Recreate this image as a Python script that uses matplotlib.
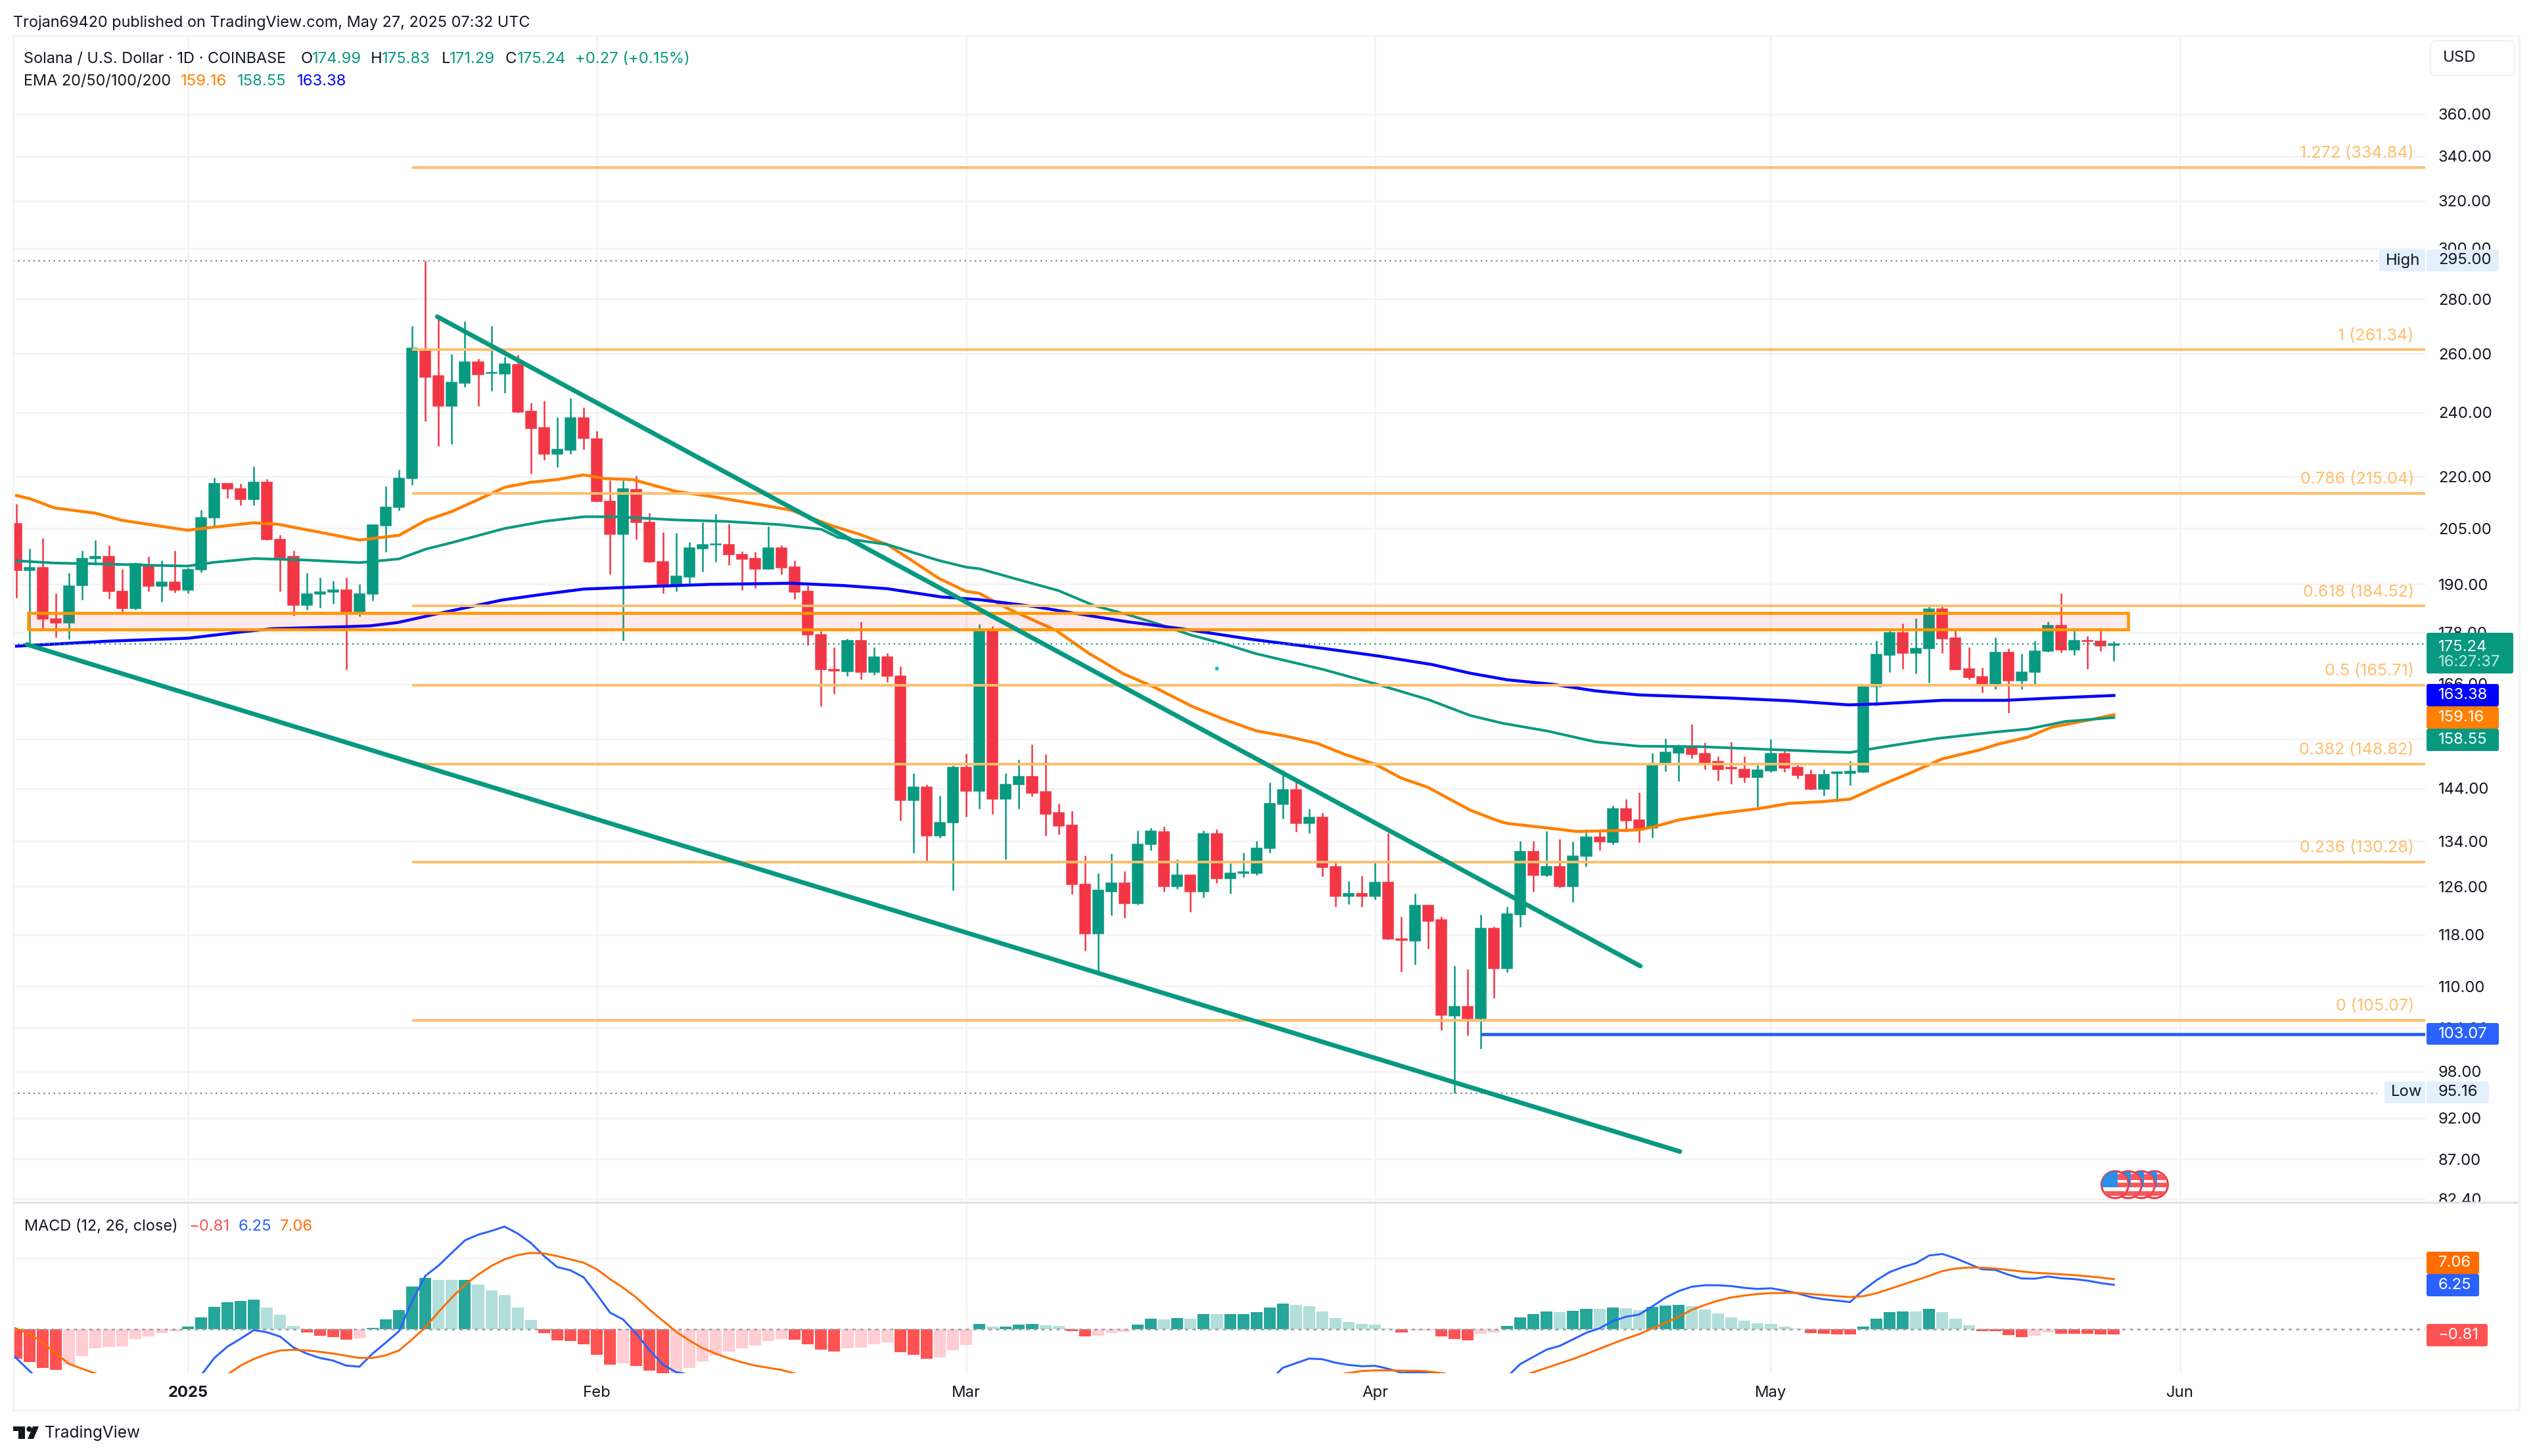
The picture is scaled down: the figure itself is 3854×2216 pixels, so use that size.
import numpy as np
import matplotlib
matplotlib.use("Agg")
import matplotlib.pyplot as plt
from matplotlib.patches import Rectangle, FancyBboxPatch, Circle, Polygon
from matplotlib.ticker import NullLocator, NullFormatter

plt.rcParams['font.family'] = ['Inter', 'DejaVu Sans']

W, H = 3854, 2216
GREEN, RED = '#089981', '#F23645'
FIB = '#FFBE6B'
TXT = '#131722'
GRID = '#F3F3F3'
FS = 17.2
FS_HEAD = 16.9
FS_FIB = 18.0

# days counted from 1 Jan 2025
days = np.arange(-13, 147)

opens = [
    206.4,193.6,194.3,181.3,180.3,189.8,196.8,197.4,188.2,183.9,
    195.1,189.5,190.6,188.6,193.8,208.0,217.9,216.4,213.2,218.3,
    202.0,197.4,184.7,187.5,188.1,188.5,182.8,187.5,205.8,211.0,
    219.4,261.7,252.2,242.1,249.7,257.1,253.2,252.9,256.1,240.5,
    235.0,226.9,228.0,238.2,231.6,212.8,203.4,216.2,206.7,196.0,
    189.5,191.9,199.4,200.6,200.6,197.9,196.8,194.0,199.6,194.6,
    188.2,177.5,169.2,168.8,176.1,168.6,172.1,167.8,141.7,144.2,
    135.0,137.4,148.1,143.5,178.5,141.9,144.8,146.3,143.3,139.3,
    136.9,126.4,118.2,125.2,126.6,123.2,133.4,135.8,126.0,128.0,
    125.2,135.4,127.4,128.3,128.3,132.7,140.9,143.7,137.3,138.4,
    129.5,124.4,124.8,124.4,126.7,117.4,117.0,122.8,120.4,105.7,
    107.0,105.3,119.0,112.7,121.3,132.2,128.0,129.5,126.0,131.3,
    134.8,133.8,140.0,138.0,136.5,148.8,151.1,152.5,151.0,149.3,
    148.1,147.8,146.2,147.5,150.9,148.1,146.7,143.9,147.0,147.0,
    147.2,165.4,172.6,178.0,173.0,174.1,183.7,176.6,169.4,167.6,
    165.9,173.2,166.7,168.6,173.6,179.7,173.8,176.1,175.8,174.99]
highs = [
    212.0,199.5,202.3,187.7,192.9,198.9,201.8,200.3,194.0,195.8,
    197.4,196.2,198.9,194.3,210.3,219.7,217.9,217.9,223.1,219.3,
    203.3,198.9,192.9,191.8,190.9,191.8,190.1,205.9,217.1,222.0,
    270.1,295.0,272.8,259.8,271.7,258.3,270.1,258.8,259.6,243.3,
    243.8,238.5,244.7,241.7,234.1,218.8,218.8,220.2,209.4,204.0,
    203.7,201.3,206.8,209.2,206.3,198.7,198.5,205.6,200.3,196.2,
    189.8,178.2,174.4,176.5,180.6,174.5,173.0,170.0,147.0,144.8,
    142.6,148.5,151.0,180.0,179.5,147.0,149.7,152.8,150.8,141.1,
    139.7,131.5,128.3,131.8,128.7,136.0,136.5,136.7,130.7,128.1,
    136.0,136.2,130.1,131.9,134.0,145.2,147.6,145.4,140.0,139.3,
    130.5,127.0,127.9,130.4,135.5,121.0,124.8,122.8,121.0,113.1,
    112.6,121.3,119.4,122.6,134.1,134.0,135.9,134.4,133.9,136.2,
    135.8,140.7,142.0,143.2,151.1,154.1,152.8,157.2,153.3,150.4,
    153.4,150.4,148.9,153.9,151.9,149.0,147.8,147.8,147.2,149.5,
    165.5,176.1,178.9,180.2,181.5,184.6,184.6,178.5,174.4,169.7,
    176.8,174.1,172.9,176.1,180.7,187.7,178.9,177.1,178.5,175.83]
lows = [
    186.6,175.1,179.0,176.8,176.4,186.0,195.0,186.3,182.8,183.6,
    188.3,185.5,187.9,187.7,193.1,205.6,213.7,211.5,211.5,201.8,
    188.2,182.1,183.6,184.1,185.0,169.3,181.9,185.9,198.5,210.1,
    217.5,237.1,229.3,230.0,248.4,242.2,247.2,246.4,240.0,220.9,
    225.0,222.8,226.9,228.3,212.7,192.6,176.0,202.0,195.8,187.7,
    188.2,190.0,193.3,196.0,195.0,188.6,189.0,194.0,192.6,186.2,
    174.9,161.0,163.8,167.7,167.0,168.1,166.4,137.8,131.9,130.5,
    134.6,125.4,138.5,140.0,139.1,130.7,140.0,142.5,135.0,135.2,
    124.7,115.5,112.2,121.2,120.8,122.9,132.4,125.1,125.6,121.7,
    124.2,126.6,124.8,127.6,128.0,131.9,138.2,135.8,135.5,127.8,
    122.6,123.0,122.6,123.8,117.2,112.2,113.3,115.8,103.7,95.16,
    102.9,101.1,108.3,112.1,119.3,125.2,127.8,125.8,123.4,129.5,
    132.4,133.5,135.8,133.8,134.7,147.3,145.4,150.0,147.8,145.5,
    144.9,145.1,140.4,147.2,147.2,145.9,143.7,142.6,141.4,144.6,
    147.1,161.1,168.7,169.4,168.4,166.3,173.0,169.3,167.0,164.1,
    164.8,159.6,164.7,165.7,173.4,173.2,172.6,169.4,173.5,171.29]
closes = [
    193.6,194.3,181.3,180.3,189.6,196.9,197.4,188.2,183.9,195.4,
    189.5,190.6,188.6,193.8,208.1,217.9,216.4,213.2,218.3,202.0,
    197.0,184.7,187.5,188.1,188.5,182.8,187.5,205.9,211.1,219.4,
    262.0,251.9,242.1,250.0,257.1,252.8,253.5,256.3,240.2,234.9,
    226.9,228.2,238.2,231.8,212.8,203.4,216.3,206.7,196.0,189.5,
    192.1,199.6,200.6,200.8,197.8,196.7,194.0,199.6,194.3,188.1,
    177.5,169.2,168.9,176.0,168.6,172.1,167.7,141.7,144.2,135.0,
    137.5,148.1,143.5,178.3,141.9,144.8,146.3,143.1,139.1,136.8,
    126.4,118.2,125.4,126.6,123.2,133.5,135.9,126.0,128.0,125.2,
    135.4,127.4,128.3,128.6,132.8,141.1,143.7,137.3,138.4,129.4,
    124.4,124.8,124.4,126.7,117.4,117.1,122.8,120.2,105.8,107.0,
    105.3,119.0,112.7,121.4,132.2,128.0,129.5,126.0,131.3,134.8,
    133.9,140.0,137.8,136.5,148.8,151.2,152.5,150.8,149.1,147.8,
    147.9,146.2,147.6,150.9,148.0,146.6,143.8,146.7,147.2,147.3,
    165.5,172.7,178.0,173.0,174.1,183.7,176.5,169.3,167.5,165.9,
    173.2,166.7,168.7,173.6,179.7,173.8,176.0,175.8,174.8,175.24]

# EMA lines, read at their bends
ema20_days = [-13,-12,-10.1,-7,-5,-2.7,0,2,5,6.8,10.5,13,16,18,20,22,24,26,28,30,31.6,33.7,37,39.9,
              43.6,45.7,48.8,50.9,53,55,56.9,59,60,62,65.8,68.3,70.9,73.2,76.1,78.6,81,83.2,85.6,
              87.7,90,92,94,97.2,99.3,100,102.9,105.3,108.8,110,111,113.1,115.9,119.1,121.4,123.8,
              126,128.4,130.7,133,135.8,137.2,139.5,141.3,144.1,146]
ema20_vals = [214.4,213.5,210.8,209.3,207.3,206.0,204.5,205.4,206.6,206.2,203.6,201.8,203.1,207.2,209.8,
              213.2,216.8,218.3,219.1,220.5,219.4,219.1,215.6,214.0,211.6,210.2,205.8,203.4,200.6,196.0,
              191.6,188.2,187.7,184.1,178.5,173.0,168.3,165.3,161.0,158.1,155.7,154.6,153.1,150.8,148.8,
              146.0,144.2,139.8,137.8,137.3,136.5,135.8,136.0,136.1,136.6,138.0,139.1,140.1,141.1,141.4,
              141.9,144.7,147.2,149.9,151.7,152.9,154.4,156.5,158.0,159.16]
ema50_days = [-13,-10.1,-7,-2.7,0,2,5,8.9,13,16,18,20,24,27,30,32.5,37,40.7,44.8,48,49.3,53,56.9,59,60,
              62.9,66,68.7,71.2,73.6,76.1,78.6,81,86,90,94,97.2,99.7,103,106.7,110,114.6,119.1,123.8,
              126,128.4,132.6,136.8,139.5,142.3,146]
ema50_vals = [196.2,195.6,195.4,195.0,194.8,195.8,196.8,196.4,195.7,196.7,199.3,201.1,205.0,207.0,208.3,
              208.3,207.4,207.0,206.1,204.8,202.5,200.6,196.3,194.5,194.1,191.3,188.4,184.6,182.4,180.0,
              177.3,175.2,172.9,169.3,166.0,162.5,159.0,157.3,155.7,153.4,152.5,152.4,151.9,151.4,151.2,
              152.3,154.1,155.4,156.1,157.7,158.55]
ema100_days = [-13,-10.1,-6,0,4.3,6.4,12,13.8,15.9,18.8,23.8,27,30,34.5,39.5,45.7,49.7,53,57.1,60,64.1,67,
               71.2,75.3,80.7,86,90.2,94.3,97.2,100,103.4,106.7,110,116.9,121.4,125.9,128,133,137.7,141.3,146]
ema100_vals = [174.7,175.2,175.9,176.6,178.2,178.9,179.4,179.6,180.4,182.5,186.0,187.5,188.8,189.4,190.0,
               190.3,189.7,188.9,186.8,186.1,184.4,182.8,180.6,178.9,176.3,174.2,172.4,170.4,168.4,166.9,
               165.9,164.4,163.5,162.8,162.2,161.3,161.5,162.3,162.3,162.8,163.38]

fib_levels = [334.84, 261.34, 215.04, 184.52, 165.71, 148.82, 130.28, 105.07]
fib_names = ['1.272', '1', '0.786', '0.618', '0.5', '0.382', '0.236', '0']

price_ticks = [360,340,320,300,280,260,240,220,205,190,178,166,154,144,134,126,118,110,104,98,92,87,82.4]
month_days = [0, 31, 59, 90, 120, 151]
month_names = ['2025', 'Feb', 'Mar', 'Apr', 'May', 'Jun']

# drawn trend lines (day, price)
upper_trend_days, upper_trend_prices = [18.9, 110.1], [273.4, 113.1]
lower_trend_days, lower_trend_prices = [-12.2, 113.1], [175.1, 87.9]

macd_hist = [
    -4.24,-4.64,-5.48,-5.79,-5.02,-3.81,-2.69,-2.54,-2.45,-1.39,
    -1.05,-0.59,-0.31,0.34,1.64,3.13,3.78,3.96,4.15,3.03,
    2.01,0.43,-0.50,-0.96,-1.15,-1.52,-1.33,0.15,1.36,2.66,
    6.0,7.21,6.97,6.95,6.98,6.28,5.45,4.80,3.03,1.27,
    -0.59,-1.61,-1.70,-2.17,-3.65,-5.05,-4.86,-5.23,-5.88,-6.6,
    -6.4,-5.51,-4.58,-3.75,-3.19,-2.72,-2.35,-1.70,-1.42,-1.52,
    -2.17,-2.91,-3.19,-2.72,-2.63,-2.17,-1.89,-3.28,-3.65,-4.18,
    -3.99,-3.0,-2.23,0.71,0.34,0.36,0.62,0.71,0.53,0.43,
    -0.31,-1.05,-0.96,-0.59,-0.40,0.62,1.46,1.36,1.55,1.46,
    2.11,2.10,2.11,2.12,2.38,3.03,3.59,3.41,3.22,2.48,
    1.55,0.99,0.71,0.62,0.06,-0.50,-0.22,-0.21,-1.05,-1.42,
    -1.61,-0.68,-0.50,0.43,1.64,2.11,2.48,2.38,2.57,2.85,
    2.84,3.03,2.94,2.66,3.13,3.31,3.41,3.22,2.76,2.2,
    1.64,1.18,0.80,0.71,0.34,0.06,-0.59,-0.68,-0.77,-0.78,
    0.34,1.46,2.38,2.48,2.47,2.85,2.38,1.46,0.53,-0.31,
    -0.32,-0.87,-1.15,-0.96,-0.50,-0.68,-0.69,-0.70,-0.78,-0.81]

# macd / signal lines, nan where they run off the bottom of the pane
macd_days = [-13.3,-11.8,np.nan,1.1,2,3,4,5,6,7,8,9,10,11,12,13,14,15,16,17,18,19,20,21,22,23,24,25,26,27,28,29,30,
             31,32,33,34,35,36,37,37.6,np.nan,82.56,83,85,86,87,88,89,90,91,92,93,94,94.7,np.nan,100.26,101,102,103,
             104,105,106,107,108,109,110,111,112,113,114,115,116,117,118,119,120,121,122,123,124,125,126,127,128,
             129,130,131,132,133,134,135,136,137,138,139,140,141,142,143,144,145,146]
macd_vals = [-3.62,-6.3,np.nan,-6.3,-4.09,-2.48,-1.36,-0.15,-0.46,-1.08,-2.6,-3.47,-4.09,-4.46,-5.17,-5.33,-3.47,-1.92,
             -0.31,3.96,7.52,8.98,10.77,12.54,13.34,13.87,14.49,13.5,12.17,10.31,8.76,8.3,7.31,4.89,2.32,1.33,-0.68,
             -3.0,-5.02,-6.1,-6.3,np.nan,-6.3,-5.48,-4.18,-4.27,-4.77,-5.08,-5.26,-5.2,-5.63,-6.19,-6.1,-6.13,-6.3,np.nan,
             -6.3,-4.95,-3.93,-2.91,-2.38,-1.46,-0.53,0.09,1.11,1.73,2.04,3.19,4.43,5.36,5.98,6.19,6.19,6.07,5.82,5.67,
             5.76,5.45,5.05,4.52,4.21,4.02,3.81,5.51,6.9,8.05,8.76,9.32,10.4,10.62,10.0,9.23,8.45,8.36,7.68,7.15,7.12,
             7.43,7.18,7.06,6.84,6.5,6.25]
signal_days = [-13.3,-12,-11,-10,-9,-8,-7,np.nan,3.1,4,5,6,7,8,9,10,11,12,13,14,15,16,17,18,19,20,21,22,23,24,25,26,27,
               28,29,30,31,32,33,34,35,36,37,38,39,40,41,42,43,44,45,46,np.nan,87.7,89,90,91,92,93.7,95.3,np.nan,
               101.7,103,104,105,106,107,108,109,110,111,112,113,114,115,116,117,118,119,120,121,122,123,124,125,126,
               127,128,129,130,131,132,133,134,135,136,137,138,139,140,141,142,143,144,145,146]
signal_vals = [0.25,-0.68,-1.92,-3.47,-4.95,-5.63,-6.3,np.nan,-6.3,-5.17,-4.24,-3.53,-3.03,-2.94,-3.03,-3.22,-3.47,-3.78,
               -4.09,-4.09,-3.72,-3.03,-1.46,0.25,2.41,4.43,6.28,7.68,8.92,9.85,10.46,10.77,10.68,10.31,9.85,9.38,8.45,
               7.06,5.82,4.43,2.72,1.18,-0.37,-1.61,-2.69,-3.47,-4.15,-4.71,-5.17,-5.48,-5.79,-6.3,np.nan,-6.3,-5.94,
               -5.85,-5.85,-5.88,-5.94,-6.3,np.nan,-6.3,-5.48,-4.86,-4.24,-3.53,-2.79,-2.07,-1.36,-0.74,0.09,0.87,1.73,
               2.72,3.41,4.02,4.46,4.74,4.95,5.08,5.11,5.11,4.95,4.8,4.64,4.52,4.64,5.05,5.67,6.28,6.9,7.52,8.2,8.55,8.7,
               8.67,8.55,8.36,8.14,7.96,7.86,7.74,7.62,7.46,7.28,7.06]


def px(n):
    # pixels to points at this dpi
    return n * 72 / 100


fig = plt.figure(figsize=(W / 100, H / 100), dpi=100, facecolor='white')
ax = fig.add_axes([20 / W, 1 - 1830 / H, 3670 / W, 1775 / H])
mx = fig.add_axes([20 / W, 1 - 2090 / H, 3670 / W, 260 / H])
ov = fig.add_axes([0, 0, 1, 1], zorder=10)
ov.set_xlim(0, W)
ov.set_ylim(H, 0)
ov.axis('off')
ov.patch.set_alpha(0)

x_left, x_right = -13.25, 169.6

# --- main pane ---
ax.set_yscale('log')
ax.set_xlim(x_left, x_right)
ax.set_ylim(82.03, 400.3)
ax.set_yticks(price_ticks)
ax.set_yticklabels([f'{t:.2f}' for t in price_ticks], fontsize=FS, color=TXT)
ax.yaxis.set_minor_locator(NullLocator())
ax.yaxis.set_minor_formatter(NullFormatter())
ax.set_xticks(month_days)
ax.set_xticklabels([])
ax.tick_params(length=0)
ax.tick_params(axis='y', left=False, right=False, labelleft=False, labelright=True, pad=px(20))
ax.grid(True, color=GRID, linewidth=px(2.5))
ax.set_axisbelow(True)
for s in ax.spines.values():
    s.set_visible(False)

o = np.array(opens)
c = np.array(closes)
up = c >= o
colors = [GREEN if u else RED for u in up]
ax.vlines(days, lows, highs, colors=colors, linewidth=px(2.5), zorder=2)
ax.bar(days, np.abs(c - o), bottom=np.minimum(o, c), width=0.8, color=colors,
       edgecolor=colors, linewidth=px(1.5), zorder=3)

ax.plot(ema20_days, ema20_vals, color='#FF8000', linewidth=px(4.5), zorder=4)
ax.plot(ema50_days, ema50_vals, color=GREEN, linewidth=px(4), zorder=4)
ax.plot(ema100_days, ema100_vals, color='#0000FF', linewidth=px(4.5), zorder=4)

for lvl, name in zip(fib_levels, fib_names):
    ax.hlines(lvl, 17, x_right, color=FIB, linewidth=px(4), zorder=5)
    ax.annotate(f'{name} ({lvl:.2f})', (1, lvl), xycoords=('axes fraction', 'data'),
                xytext=(px(-17), px(21)), textcoords='offset points', ha='right', va='center',
                fontsize=FS_FIB, color=FIB, zorder=5)

ax.add_patch(Rectangle((-12.1, 178.75), 159.2, 182.75 - 178.75, facecolor=(0.95, 0.21, 0.27, 0.1),
                       edgecolor='#FF9800', linewidth=px(4.5), zorder=6))
ax.plot(upper_trend_days, upper_trend_prices, color=GREEN, linewidth=px(7), zorder=7, solid_capstyle='round')
ax.plot(lower_trend_days, lower_trend_prices, color=GREEN, linewidth=px(7), zorder=7, solid_capstyle='round')
ax.hlines(103.07, 98, x_right, color='#2962FF', linewidth=px(5), zorder=7)
ax.scatter([78], [169.5], s=10, color='#00BCD4', zorder=7)

dotted = (0, (1, 2.5))
x_tag = (3617 - 286) / 20.07
ax.hlines(295, x_left, x_tag, color='#787B86', linewidth=px(2.2), linestyles=[dotted], zorder=1)
ax.hlines(95.16, x_left, x_tag, color='#787B86', linewidth=px(2.2), linestyles=[dotted], zorder=1)
ax.hlines(175.24, x_left, x_right, color=GREEN, linewidth=px(2.2), linestyles=[dotted], zorder=5)

# --- MACD pane ---
mx.set_xlim(x_left, x_right)
mx.set_ylim(-6.25, 17.91)
mx.set_yticks([10])
mx.set_yticklabels([])
mx.set_xticks(month_days)
mx.set_xticklabels(month_names, fontsize=FS, color=TXT)
mx.get_xticklabels()[0].set_fontweight('bold')
mx.tick_params(length=0)
mx.tick_params(axis='x', pad=px(19))
mx.grid(True, color=GRID, linewidth=px(2.5))
mx.set_axisbelow(True)
for s in mx.spines.values():
    s.set_visible(False)

hist = np.array(macd_hist)
prev = np.concatenate(([hist[0] * 0.9], hist[:-1]))
hist_cols = []
for v, p in zip(hist, prev):
    if v >= 0:
        hist_cols.append('#26A69A' if v > p else '#B2DFDB')
    else:
        hist_cols.append('#FF5252' if v < p else '#FFCDD2')
mx.bar(days, hist, width=0.9, color=hist_cols, zorder=2)
mx.axhline(0, color='#9B9EA8', linewidth=px(2.5), linestyle=(0, (2, 2.6)), zorder=3)
mx.plot(macd_days, macd_vals, color='#2962FF', linewidth=px(3), zorder=4)
mx.plot(signal_days, signal_vals, color='#FF6D00', linewidth=px(3), zorder=4)

# --- frame and everything on top, in pixels ---
ov.add_patch(Rectangle((3692, 1831), 141, 60, facecolor='white', edgecolor='none', zorder=1))
ov.plot([20, 3833], [1830, 1830], color='#E0E3EB', linewidth=px(3), zorder=2)
ov.plot([20, 20, 3833, 3833], [2146, 54, 54, 2146], color='#F2F2F2', linewidth=px(2.5), zorder=2)
ov.plot([20, 3833], [2146, 2146], color='#F2F2F2', linewidth=px(2.5), zorder=2)


def label(x, y, s, color=TXT, **kw):
    ov.text(x, y, s, color=color, fontsize=kw.pop('fontsize', FS), va='center', zorder=5, **kw)


def tag(x0, x1, y0, y1, fc, s, tc='white', tx=3710):
    ov.add_patch(FancyBboxPatch((x0, y0), x1 - x0, y1 - y0, boxstyle='round,pad=0,rounding_size=3',
                                facecolor=fc, edgecolor='none', zorder=4))
    label(tx, (y0 + y1) / 2, s, tc)


label(20, 35, 'Trojan69420 published on TradingView.com, May 27, 2025 07:32 UTC', fontsize=FS_HEAD)
label(36, 90, 'Solana / U.S. Dollar · 1D · COINBASE', fontsize=FS_HEAD)
for x, s, col in [(458, 'O', TXT), (475, '174.99', GREEN), (564, 'H', TXT), (581, '175.83', GREEN),
                  (672, 'L', TXT), (684, '171.29', GREEN), (769, 'C', TXT), (787, '175.24', GREEN),
                  (875, '+0.27 (+0.15%)', GREEN)]:
    label(x, 90, s, col)
label(36, 124, 'EMA 20/50/100/200', fontsize=FS_HEAD)
label(275, 124, '159.16', '#FF8000')
label(361, 124, '158.55', GREEN)
label(452, 124, '163.38', '#0000FF')
label(37, 1867, 'MACD (12, 26, close)', fontsize=FS_HEAD)
label(288, 1867, '−0.81', '#FF5252')
label(363, 1867, '6.25', '#2962FF')
label(426, 1867, '7.06', '#FF6D00')

ov.add_patch(FancyBboxPatch((3698, 62), 128, 53, boxstyle='round,pad=0,rounding_size=9',
                            facecolor='white', edgecolor='#F0F0F0', linewidth=px(2), zorder=3))
label(3717, 88, 'USD')

tag(3620, 3690, 380, 413, '#E3EFFD', 'High', TXT, tx=3630)
tag(3692, 3802, 380, 413, '#E3EFFD', '295.00', TXT)
tag(3628, 3690, 1646, 1679, '#E3EFFD', 'Low', TXT, tx=3638)
tag(3692, 3787, 1646, 1679, '#E3EFFD', '95.16', TXT)
tag(3692, 3824, 963, 1025, GREEN, '', 'white')
label(3710, 985, '175.24', 'white')
label(3710, 1008, '16:27:37', '#C4E6DF')
tag(3692, 3802, 1041, 1075, '#0000FF', '163.38')
tag(3692, 3802, 1075, 1109, '#FF8000', '159.16')
tag(3692, 3802, 1109, 1143, GREEN, '158.55')
tag(3692, 3802, 1557, 1590, '#2962FF', '103.07')
tag(3692, 3772, 1905, 1939, '#FF6D00', '7.06')
tag(3692, 3772, 1939, 1973, '#2962FF', '6.25')
tag(3692, 3785, 2015, 2049, '#FF5252', '−0.81')

# flag icons, rightmost first
for i, fx in enumerate([3278, 3258, 3238, 3218]):
    z = 6 + i
    disc = Circle((fx, 1803), 20.5, facecolor='white', edgecolor=RED, linewidth=px(3), zorder=z)
    ov.add_patch(disc)
    for y0, hgt in [(-16, 9), (-3, 7), (10, 7)]:
        r = Rectangle((fx - 20, 1803 + y0), 40, hgt, facecolor='#F5595E', edgecolor='none', zorder=z)
        ov.add_patch(r)
        r.set_clip_path(disc)
    r = Rectangle((fx - 20, 1803 - 20), 24, 24, facecolor='#2A8FE8', edgecolor='none', zorder=z)
    ov.add_patch(r)
    r.set_clip_path(disc)

# logo and wordmark
ov.add_patch(Polygon([(20, 2171), (38, 2171), (38, 2190), (28, 2190), (28, 2178), (20, 2178)],
                     facecolor='#131722', edgecolor='none'))
ov.add_patch(Circle((44.5, 2175), 4.2, facecolor='#131722', edgecolor='none'))
ov.add_patch(Polygon([(50, 2171), (59, 2171), (51, 2190), (42, 2190)], facecolor='#131722', edgecolor='none'))
label(68, 2181, 'TradingView', fontsize=17.6)

fig.savefig('out.png', dpi=100, facecolor='white')
